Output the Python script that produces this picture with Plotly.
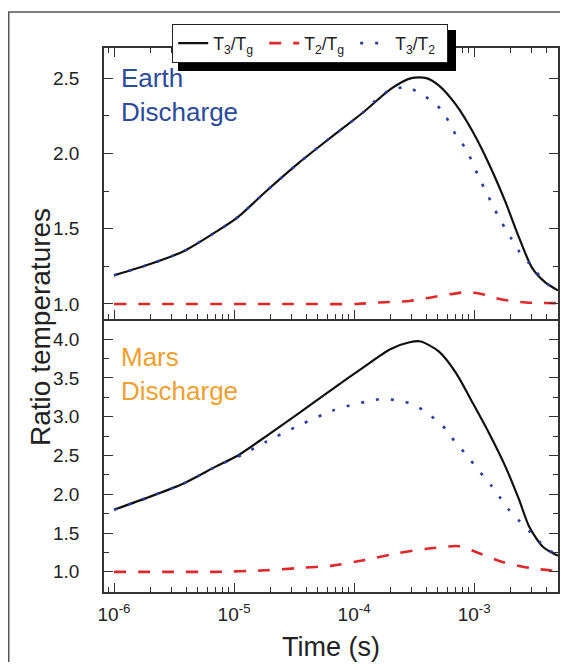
import plotly.graph_objects as go
import math

# ---------------- data ----------------
# Earth discharge
earth_t_T3Tg = [1e-6, 2e-6, 3.8e-6, 7.1e-6, 1.05e-5, 1.86e-5, 3.5e-5, 6.5e-5, 1.18e-4, 2.04e-4,
                3e-4, 4e-4, 5.1e-4, 7.1e-4, 9.8e-4, 1.33e-3, 1.82e-3, 2.37e-3, 3.04e-3, 3.96e-3, 5e-3]
earth_T3Tg = [1.19, 1.265, 1.35, 1.48, 1.57, 1.75, 1.94, 2.11, 2.27, 2.43,
              2.50, 2.50, 2.45, 2.32, 2.14, 1.93, 1.68, 1.44, 1.24, 1.14, 1.09]

earth_t_T3T2 = [1e-6, 2e-6, 3.8e-6, 7.1e-6, 1.05e-5, 1.86e-5, 3.5e-5, 6.5e-5, 1.18e-4, 1.5e-4,
                2e-4, 2.78e-4, 3.5e-4, 4.4e-4, 5.46e-4, 7.2e-4, 8.55e-4, 1.07e-3, 1.38e-3,
                1.62e-3, 2.02e-3, 2.37e-3, 2.88e-3, 3.96e-3, 5e-3]
earth_T3T2 = [1.19, 1.265, 1.35, 1.48, 1.57, 1.75, 1.94, 2.11, 2.27, 2.35,
              2.42, 2.44, 2.40, 2.35, 2.28, 2.11, 2.03, 1.86, 1.68,
              1.57, 1.44, 1.35, 1.27, 1.14, 1.09]

earth_t_T2Tg = [1e-6, 3e-6, 1e-5, 3e-5, 1.05e-4, 1.6e-4, 2.9e-4, 4.5e-4, 8.3e-4, 1.1e-3,
                1.7e-3, 2.7e-3, 5e-3]
earth_T2Tg = [1.0, 1.0, 1.0, 1.0, 1.0, 1.01, 1.02, 1.045, 1.077, 1.07,
              1.03, 1.01, 1.005]

# Mars discharge
mars_t_T3Tg = [1e-6, 2e-6, 3.8e-6, 7.1e-6, 1.05e-5, 1.86e-5, 3.5e-5, 6.65e-5, 1.18e-4, 2e-4,
               2.9e-4, 3.6e-4, 5.1e-4, 7.1e-4, 9.8e-4, 1.33e-3, 1.82e-3, 2.37e-3, 2.88e-3,
               3.7e-3, 4.8e-3, 5e-3]
mars_T3Tg = [1.80, 1.97, 2.14, 2.36, 2.49, 2.75, 3.05, 3.36, 3.63, 3.87,
             3.96, 3.97, 3.84, 3.56, 3.17, 2.79, 2.36, 1.93, 1.58,
             1.33, 1.22, 1.21]

mars_t_T3T2 = [1e-6, 2e-6, 3.8e-6, 7.1e-6, 1.2e-5, 1.86e-5, 3.5e-5, 6.65e-5, 1e-4, 1.33e-4,
               1.7e-4, 2.3e-4, 2.96e-4, 3.8e-4, 4.8e-4, 5.9e-4, 6.9e-4, 8.4e-4, 9.9e-4,
               1.2e-3, 1.41e-3, 1.66e-3, 1.95e-3, 2.4e-3, 2.9e-3, 3.5e-3, 4.2e-3, 5e-3]
mars_T3T2 = [1.80, 1.97, 2.14, 2.36, 2.52, 2.68, 2.89, 3.08, 3.16, 3.20,
             3.23, 3.21, 3.17, 3.08, 2.96, 2.83, 2.68, 2.53, 2.39,
             2.23, 2.10, 1.95, 1.80, 1.65, 1.52, 1.39, 1.28, 1.22]

mars_t_T2Tg = [1e-6, 3e-6, 7e-6, 1.86e-5, 3.5e-5, 6.6e-5, 1.2e-4, 2.3e-4, 4.2e-4, 7.5e-4,
               1.1e-3, 1.7e-3, 2.9e-3, 5e-3]
mars_T2Tg = [1.0, 1.0, 1.0, 1.02, 1.05, 1.08, 1.15, 1.24, 1.30, 1.33,
             1.24, 1.13, 1.05, 1.01]

x_tick_vals = [1e-6, 1e-5, 1e-4, 1e-3]
x_tick_text = ["10<sup>-6</sup>", "10<sup>-5</sup>", "10<sup>-4</sup>", "10<sup>-3</sup>"]

# ---------------- figure ----------------
# page body has an 8px margin; keep the figure inside it
OFF = 8
W, H = 568 - 2 * OFF, 670 - 2 * OFF
L, T = 104 - OFF, 48 - OFF
R = W - (558 - OFF)
B = H - (592 - OFF)
pw, ph = W - L - R, H - T - B
split = (592 - 319) / ph


def px(x):  # page x -> paper
    return (x - OFF - L) / pw


def py(y):  # page y -> paper
    return (H - B - (y - OFF)) / ph


BLACK = "#111111"
RED = "#e0282a"
BLUE = "#2b3d9c"
AX = "#333333"
FONT = "Liberation Sans, Arial, sans-serif"

names = ["T<sub>3</sub>/T<sub>g</sub>", "T<sub>2</sub>/T<sub>g</sub>", "T<sub>3</sub>/T<sub>2</sub>"]
styles = [dict(color=BLACK, width=2.2),
          dict(color=RED, width=2.6, dash="12px,12px"),
          dict(color=BLUE, width=2.6, dash="3px,12px")]

fig = go.Figure()
upper = [(earth_t_T3Tg, earth_T3Tg), (earth_t_T2Tg, earth_T2Tg), (earth_t_T3T2, earth_T3T2)]
lower = [(mars_t_T3Tg, mars_T3Tg), (mars_t_T2Tg, mars_T2Tg), (mars_t_T3T2, mars_T3T2)]
for i, (xs, ys) in enumerate(upper):
    fig.add_trace(go.Scatter(x=xs, y=ys, mode="lines", name=names[i],
                             line=dict(shape="spline", smoothing=0.7, **styles[i]),
                             xaxis="x2", yaxis="y2", showlegend=True))
for i, (xs, ys) in enumerate(lower):
    fig.add_trace(go.Scatter(x=xs, y=ys, mode="lines", name=names[i],
                             line=dict(shape="spline", smoothing=0.7, **styles[i]),
                             xaxis="x", yaxis="y", showlegend=False))

xrange = [math.log10(8.25e-7), math.log10(5e-3)]
common_x = dict(type="log", range=xrange, showline=True, linecolor=AX, linewidth=1.6,
                ticks="inside", ticklen=9, tickwidth=1.3, tickcolor=AX, showgrid=False, zeroline=False,
                minor=dict(ticks="inside", ticklen=5, tickwidth=1.2, tickcolor=AX, dtick="D1", showgrid=False))
common_y = dict(showline=True, linecolor=AX, linewidth=1.6, ticks="inside", ticklen=9, tickwidth=1.3,
                tickcolor=AX, showgrid=False, zeroline=False, mirror="ticks", tickformat=".1f",
                ticklabelstandoff=19,
                tickfont=dict(size=19, color="#222", family=FONT),
                minor=dict(ticks="inside", ticklen=5, tickwidth=1.2, tickcolor=AX, dtick=0.25, showgrid=False))

LEG_TOP = 24
fig.update_layout(
    width=W, height=H,
    margin=dict(l=L, r=R, t=T, b=B, autoexpand=False),
    paper_bgcolor="white", plot_bgcolor="white",
    font=dict(family=FONT, color="#222"),
    xaxis=dict(common_x, anchor="y", domain=[0, 1], mirror=False,
               tickvals=x_tick_vals, ticktext=x_tick_text, ticklabelstandoff=4,
               tickfont=dict(size=19, color="#222", family=FONT),
               title=dict(text="Time (s)", font=dict(size=27, family=FONT, color="#222"), standoff=22)),
    xaxis2=dict(common_x, anchor="y2", domain=[0, 1], mirror="ticks", matches="x", showticklabels=False,
                tickvals=x_tick_vals),
    yaxis=dict(common_y, domain=[0, split], range=[0.74, 4.26], dtick=0.5, tick0=1.0),
    yaxis2=dict(common_y, domain=[split, 1], range=[0.9, 2.7], dtick=0.5, tick0=1.0),
    legend=dict(orientation="h", x=px(172), y=py(LEG_TOP), xanchor="left", yanchor="top",
                bgcolor="white", bordercolor="#222", borderwidth=1.2,
                font=dict(size=17.5, family=FONT, color="#222"), itemwidth=30, tracegroupgap=0,
                entrywidth=46, entrywidthmode="pixels"),
    showlegend=True,
)

# legend drop shadow (offset ~6 px right/down of the legend box)
fig.add_shape(type="rect", xref="paper", yref="paper",
              x0=px(178), x1=px(456), y0=py(LEG_TOP + 47), y1=py(LEG_TOP + 6),
              fillcolor="black", line=dict(width=0), layer="above")

# outer frame (left and top edges only; the rest lies outside the picture)
fig.add_shape(type="path", xref="paper", yref="paper",
              path="M %.5f,%.5f L %.5f,%.5f L %.5f,%.5f" % (px(8.75), py(700), px(8.75), py(12), px(640), py(12)),
              line=dict(color="#555", width=1.5), layer="below")

fig.add_annotation(text="Ratio temperatures", xref="paper", yref="paper",
                   x=px(40), y=py(327), textangle=-90, showarrow=False,
                   xanchor="center", yanchor="middle", font=dict(size=28, family=FONT, color="#222"))
fig.add_annotation(text="Earth<br>Discharge", xref="paper", yref="paper",
                   x=px(119), y=py(61), showarrow=False, align="left",
                   xanchor="left", yanchor="top", font=dict(size=26, family=FONT, color="#2a4a9c"))
fig.add_annotation(text="Mars<br>Discharge", xref="paper", yref="paper",
                   x=px(119), y=py(340), showarrow=False, align="left",
                   xanchor="left", yanchor="top", font=dict(size=26, family=FONT, color="#f0a030"))

fig.write_html("out.html")
